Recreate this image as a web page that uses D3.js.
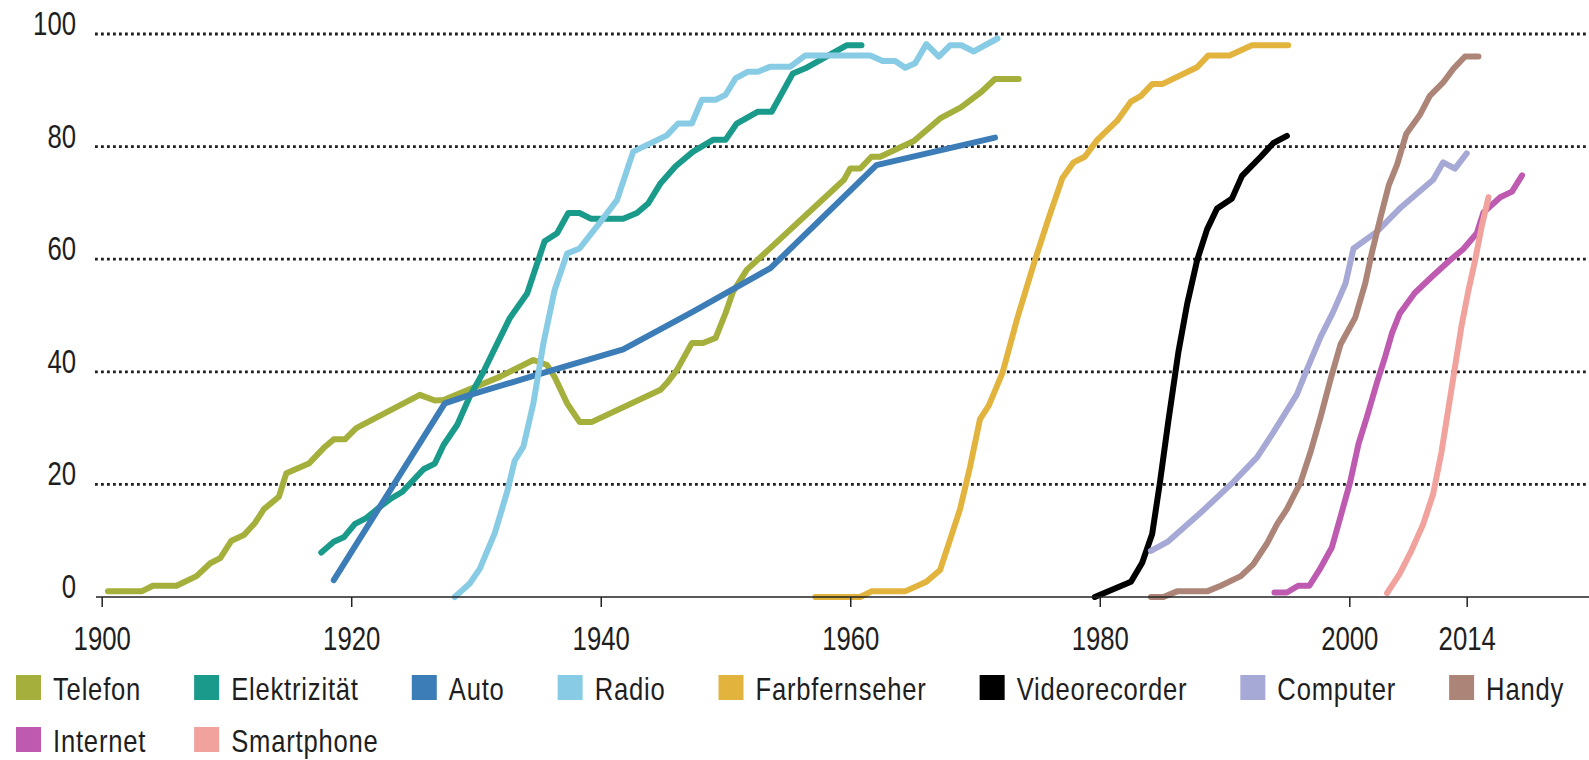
<!DOCTYPE html>
<html>
  <head>
	<meta charset="utf-8">
    <title>Technologie-Verbreitung</title>
    <script src="https://cdn.jsdelivr.net/npm/d3@7"></script>
  	<style>
		body{
			margin:0;
			background:#fff;
		}
		svg{
			display:block;
		}
		text{
			font-family:"Liberation Sans Narrow","Liberation Sans",Arial,sans-serif;
			fill:#1e1e1e;
		}
		.tick line{
			stroke:#222;
			stroke-width:1.5px;
		}
		.grid{
			stroke:#1e1e1e;
			stroke-width:2.8px;
			stroke-dasharray:2.8,3.2;
		}
		.line{
			fill:none;
			stroke-width:6px;
			stroke-linejoin:round;
			stroke-linecap:round;
		}
	</style>
  </head>
  <body>
    <div id="diagram"></div>
    <script>
		var telefon = [[1900.5,1],[1903.2,1],[1904.1,2],[1906,2],[1907.6,3.7],[1908.7,6],[1909.5,6.9],[1910.4,10],[1911.4,11],[1912.3,13.2],[1913,15.6],[1914.2,17.8],[1914.8,22],[1916.6,23.7],[1917.9,26.7],[1918.6,28],[1919.5,28],[1920.4,30],[1925.5,35.9],[1926.7,34.9],[1927.4,35],[1931.9,39.1],[1934.6,42.1],[1935.7,41.2],[1936.3,39.1],[1937.3,34.4],[1938.3,31.1],[1939.3,31.1],[1944.8,36.8],[1945.3,38],[1946.1,40.3],[1947.3,45.1],[1948.2,45.1],[1949.2,46],[1950,50.4],[1950.6,54.2],[1951.7,58.1],[1959.5,74.1],[1960,76.1],[1960.8,76.1],[1961.7,78.2],[1962.4,78.2],[1965.1,81],[1967.2,85],[1968.9,87],[1969.9,88.7],[1970.5,89.7],[1971.6,92],[1973.5,92]];
		var elektrizitaet = [[1917.6,7.9],[1918.6,9.8],[1919.4,10.6],[1920.3,13],[1921.2,14],[1922.3,16],[1923.2,17.5],[1924.1,18.7],[1925.8,22.7],[1926.7,23.7],[1927.4,27],[1928.5,30.6],[1929.5,35.6],[1930.6,40],[1931.7,45],[1932.7,49.5],[1934.1,53.9],[1935.5,63.2],[1936.5,64.6],[1937.4,68.2],[1938.3,68.2],[1939.2,67.2],[1941.8,67.2],[1942.9,68.2],[1943.8,69.9],[1944.8,73.5],[1946,76.5],[1947.4,79.1],[1949,81.2],[1950,81.2],[1950.9,84.1],[1952.6,86.2],[1953.7,86.2],[1955.4,93],[1956.4,93.9],[1959.7,98],[1960.9,98]];
		var auto = [[1918.6,3],[1927.5,34.4],[1929.4,35.8],[1935.4,39.8],[1941.8,44],[1947.4,50.7],[1953.6,58.4],[1962.1,76.7],[1971.6,81.6]];
		var radio = [[1928.3,0],[1929.5,2.4],[1930.3,5],[1931.5,11.3],[1932.5,18.7],[1933.1,24.2],[1933.8,26.7],[1934.6,34.4],[1935.4,45],[1936.3,54.5],[1937.3,61],[1938.3,61.9],[1939.9,66.4],[1941.3,70.5],[1942.6,79.1],[1945.3,82],[1946.2,84.1],[1947.3,84.1],[1948.1,88.3],[1949.2,88.3],[1950,89.2],[1950.8,92.1],[1951.8,93.3],[1952.6,93.3],[1953.6,94.2],[1955.2,94.2],[1956.4,96.2],[1961.6,96.2],[1962.6,95.2],[1963.6,95.2],[1964.4,94],[1965.2,94.8],[1966.1,98.2],[1967.1,96],[1968,98],[1968.9,98],[1969.9,96.9],[1971.8,99.2]];
		var farbfernseher = [[1957.2,0],[1960.8,0],[1961.7,1],[1964.4,1],[1966.1,2.7],[1967.2,4.8],[1968,10.2],[1968.8,15.6],[1969.6,23.1],[1970.4,31.6],[1971.1,34],[1972.2,39.8],[1973.4,49.6],[1974.7,59.1],[1975.9,67.3],[1977,74.4],[1977.9,77.2],[1978.8,78.2],[1979.8,81.2],[1981.4,84.6],[1982.5,88],[1983.3,89],[1984.2,91.1],[1985,91.1],[1987.8,94.1],[1988.7,96.2],[1990.4,96.2],[1992.2,98],[1995.1,98]];
		var videorecorder = [[1979.6,0],[1982.5,2.7],[1983.4,6.1],[1984.2,11.2],[1984.8,20],[1985.5,31.3],[1986.3,43.5],[1987,52],[1987.8,59.8],[1988.6,65.3],[1989.4,69],[1990.6,70.8],[1991.4,74.8],[1992.9,78.2],[1993.9,80.6],[1995,81.9]];
		var computer = [[1984.1,8.2],[1985.5,9.9],[1988.1,15],[1990.7,20.4],[1992.6,24.8],[1993.9,29.2],[1995.8,36],[1996.6,40.4],[1997.7,46.2],[1998.7,50.6],[1999.7,55.7],[2000.5,61.9],[2003.3,64.9],[2006,69],[2010,74.1],[2011.2,77.2],[2012.6,76.1],[2014,78.8]];
		var handy = [[1984.1,0],[1985.1,0],[1986.2,1],[1988.6,1],[1989.7,2],[1991.3,3.7],[1992.3,5.8],[1993.4,9.5],[1994.2,12.9],[1995,15.6],[1996.1,20.4],[1996.9,25.8],[1997.7,32],[1998.5,38.7],[1999.3,44.9],[2000.7,49.6],[2001.9,55.7],[2002.7,61.2],[2003.7,67.3],[2004.7,73.1],[2005.7,76.8],[2006.8,82.3],[2008.4,85.6],[2009.6,89],[2011.2,91.4],[2012.4,93.8],[2013.8,96],[2015.4,96]];
		var internet = [[1994,0.8],[1995,0.8],[1995.9,2],[1996.8,2],[1997.6,4.8],[1998.6,8.8],[1999.3,14.3],[2000.1,20.4],[2001.1,27.2],[2002.1,32],[2003.3,38.1],[2004.3,42.8],[2005.1,46.9],[2006,50.3],[2007.8,54],[2010,57.1],[2012,59.8],[2013.6,61.8],[2015.2,64.6],[2016,68.3],[2018,71],[2019.4,72],[2020.6,74.9]];
		var smartphone = [[2004.5,0.7],[2006,4.1],[2007.4,8.2],[2008.8,12.9],[2010,18.3],[2011,25.8],[2011.8,33.3],[2012.6,40.8],[2013.4,48.3],[2014.2,54.4],[2015,59.8],[2015.8,65.9],[2016.6,71]];

		var categories = ["Telefon","Elektrizität","Auto","Radio","Farbfernseher","Videorecorder","Computer","Handy","Internet","Smartphone"];
		var seriesData = [telefon,elektrizitaet,auto,radio,farbfernseher,videorecorder,computer,handy,internet,smartphone];
		var colors = ["#a4b03b","#1a9a8a","#3c7db8","#88cbe4","#e2b43e","#000000","#a6a8d6","#ac8578","#be5aaf","#f1a29c"];
		var xTicks = [1900,1920,1940,1960,1980,2000,2014];
		var yTicks = [0,20,40,60,80,100];

		var width = 1589, height = 760;
		var narrow = 0.78; // schmale schrift nachbilden
		var svg = d3.select("#diagram").append("svg")
					.attr("width", width)
					.attr("height", height);

		// achse ist nach 2000 gestaucht (2014-marke)
		var xScale = d3.scaleLinear().domain([1900,2000,2014]).range([101.7,1349.3,1466.7]);
		var yScale = d3.scaleLinear().domain([0,100]).range([597,34]);

		//grid
		svg.append("g").selectAll("line")
			.data(yTicks.filter(function(d){ return d > 0; }))
			.enter().append("line")
			.attr("class","grid")
			.attr("x1",95).attr("x2",width)
			.attr("y1",function(d){ return yScale(d); })
			.attr("y2",function(d){ return yScale(d); });

		//y labels
		svg.append("g").selectAll("text")
			.data(yTicks)
			.enter().append("text")
			.attr("transform",function(d){ return "translate(76,"+(yScale(d)+1)+") scale("+narrow+",1)"; })
			.style("text-anchor","end")
			.style("font-size","33px")
			.text(function(d){ return d; });

		//lines
		var line = d3.line()
			.x(function(d){ return xScale(d[0]); })
			.y(function(d){ return yScale(d[1]); });

		svg.append("g").selectAll("path")
			.data(seriesData)
			.enter().append("path")
			.attr("class","line")
			.attr("d",line)
			.style("stroke",function(d,i){ return colors[i]; });

		//x axis
		var xAxis = d3.axisBottom(xScale).tickValues(xTicks).tickSize(10).tickPadding(0).tickFormat(d3.format("d"));
		var xAxisGroup = svg.append("g")
			.attr("transform","translate(0,"+yScale(0)+")")
			.call(xAxis);
		xAxisGroup.select(".domain").remove();
		xAxisGroup.attr("font-family",null).attr("font-size",null);
		xAxisGroup.selectAll(".tick text")
			.attr("y",53).attr("dy",null)
			.attr("transform","scale("+narrow+",1)")
			.style("font-size","33px").style("fill","#1e1e1e");
		xAxisGroup.append("line")
			.attr("x1",96).attr("x2",width)
			.attr("y1",0).attr("y2",0)
			.style("stroke","#222").style("stroke-width","1.5px");

		//legend
		var legend = svg.append("g");
		var colX = [];
		var lx = 16;
		var lScale = 0.8;
		categories.forEach(function(name,i){
			var row = i < 8 ? 0 : 1;
			var x = row == 0 ? lx : colX[i-8];
			var g = legend.append("g").attr("transform","translate("+x+","+(675 + row*52)+")");
			g.append("rect").attr("width",25).attr("height",25).style("fill",colors[i]);
			var t = g.append("text")
				.attr("transform","translate(37,25) scale("+lScale+",1)")
				.style("font-size","32px").style("letter-spacing","1px")
				.text(name);
			if(row == 0){
				colX.push(lx);
				lx += 37 + t.node().getComputedTextLength()*lScale + 53;
			}
		});
	</script>
  </body>
</html>
